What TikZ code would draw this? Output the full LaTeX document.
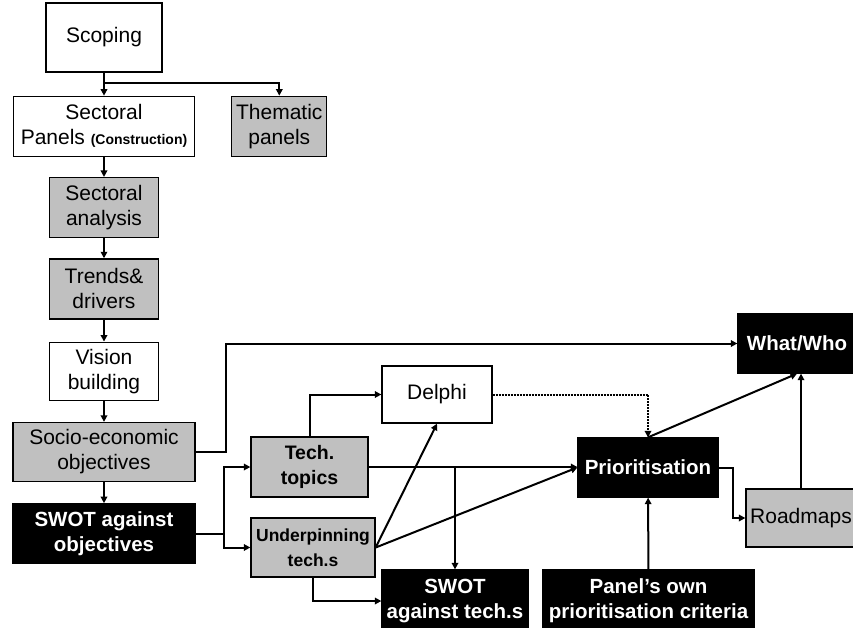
\documentclass[tikz,border=0pt]{standalone}
\usepackage{fontspec}
\setmainfont{Liberation Sans}
\usetikzlibrary{positioning, calc, arrows.meta}
\definecolor{panelgrey}{RGB}{192,192,192}

\begin{document}
\begin{tikzpicture}[x=1pt, y=-1pt,
    box/.style={draw, line width=1.3pt, align=center, inner sep=0pt, font=\fontsize{21}{25}\selectfont},
    whitebox/.style={box, fill=white},
    greybox/.style={box, fill=panelgrey},
    blackbox/.style={box, fill=black, text=white, font=\fontsize{20.5}{25}\selectfont\bfseries},
    link/.style={line width=2pt, -{Triangle[length=6.5pt, width=6.5pt]}}]
    \clip (0,0) rectangle (853,627);
    \fill[white] (0,0) rectangle (853,627);
    \node[whitebox, minimum width=116pt, minimum height=69pt] (scoping) at (104,37.5) {Scoping};
    \node[whitebox, minimum width=181pt, minimum height=60pt, below=23pt of scoping] (panels) {Sectoral\\Panels {\fontsize{14}{16}\selectfont\bfseries (Construction)}};
    \node[greybox, minimum width=95pt, minimum height=60pt, right=36pt of panels] (thematic) {Thematic\\panels};
    \node[greybox, minimum width=109pt, minimum height=60pt, below=20pt of panels] (analysis) {Sectoral\\analysis};
    \node[greybox, minimum width=109pt, minimum height=60pt, below=20pt of analysis] (trends) {Trends\&\\drivers};
    \node[whitebox, minimum width=109pt, minimum height=58pt, below=22pt of trends] (vision) {Vision\\building};
    \node[greybox, minimum width=182pt, minimum height=59pt, below=21pt of vision] (socio) {Socio-economic\\objectives};
    \node[blackbox, minimum width=182pt, minimum height=60pt, below=21pt of socio] (swotobj) {SWOT against\\objectives};
    \node[greybox, minimum width=117pt, minimum height=60pt, font=\fontsize{19.5}{25}\selectfont\bfseries] (topics) at (309.5,467) {Tech.\\topics};
    \node[greybox, minimum width=124pt, minimum height=59pt, font=\fontsize{17.5}{25}\selectfont\bfseries] (underpin) at (313,547.5) {Underpinning\\tech.s};
    \node[whitebox, minimum width=110pt, minimum height=57pt] (delphi) at (437,394.5) {Delphi};
    \node[blackbox, minimum width=146pt, minimum height=62pt] (swottech) at (455,601) {SWOT\\against tech.s};
    \node[blackbox, minimum width=140pt, minimum height=59pt] (prio) at (648,467.5) {Prioritisation};
    \node[blackbox, minimum width=211pt, minimum height=62pt] (criteria) at (648.5,601) {Panel's own\\prioritisation criteria};
    \node[blackbox, minimum width=118pt, minimum height=59pt] (whatwho) at (797,343.5) {What/Who};
    \node[greybox, minimum width=110pt, minimum height=58pt] (roadmaps) at (801,518) {Roadmaps};
    \coordinate (split) at ($(scoping.south)+(0,10)$);
    \draw[link] (scoping) -- (panels);
    \draw[link] (split) -| (thematic.north);
    \draw[link] (panels) -- (analysis);
    \draw[link] (analysis) -- (trends);
    \draw[link] (trends) -- (vision);
    \draw[link] (vision) -- (socio);
    \draw[link] (socio) -- (swotobj);
    \draw[link] (socio.east) -- ++(30,0) |- (whatwho.west);
    \draw[line width=2pt] (swotobj.east) -- ++(28,0) coordinate (fork);
    \draw[link] (fork) |- (topics.west);
    \draw[link] (fork) |- (underpin.west);
    \draw[link] (topics.north) |- (delphi.west);
    \draw[link] (topics.east) -- (topics.east -| prio.west);
    \draw[link] (swottech.north |- topics.east) -- (swottech.north);
    \draw[link] (underpin.east) -- (delphi.south);
    \draw[link] (underpin.east) -- (prio.west);
    \draw[link] (underpin.south) |- (swottech.west);
    \draw[link, densely dotted] (delphi.east) -| (prio.north);
    \draw[link] (prio.north) -- (whatwho.south);
    \draw[link] (prio.east) -- ++(14,0) |- (roadmaps.west);
    \draw[link] (roadmaps.north) -- (roadmaps.north |- whatwho.south);
    \draw[link] (criteria) -- (prio);
\end{tikzpicture}
\end{document}
